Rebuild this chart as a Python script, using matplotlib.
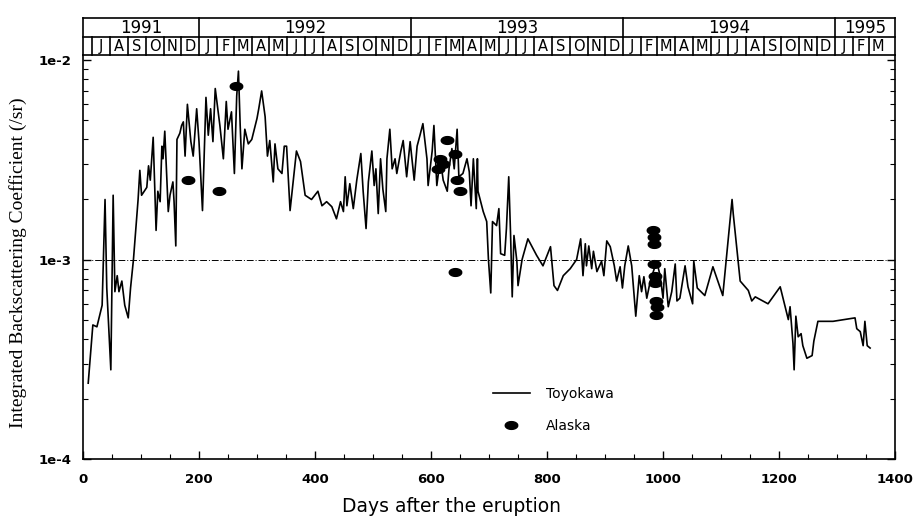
import numpy as np
import matplotlib
matplotlib.use("Agg")
import matplotlib.pyplot as plt
import matplotlib.transforms as mtransforms

# Toyokawa lidar series (days after eruption, /sr)
toyo_days = [9, 17, 24, 33, 38, 41, 48, 52, 55, 59, 62, 67, 72, 78, 82, 87, 95, 98, 101,
             110, 113, 116, 121, 126, 129, 133, 136, 138, 141, 147, 150, 155, 157, 160,
             162, 167, 170, 173, 176, 180, 186, 190, 196, 200, 206, 212, 216, 220, 224,
             228, 236, 242, 247, 250, 256, 261, 265, 268, 271, 274, 279, 285, 291, 300,
             303, 308, 314, 318, 322, 328, 331, 336, 343, 347, 351, 357, 368, 375, 383,
             394, 405, 412, 420, 429, 437, 444, 449, 452, 455, 460, 466, 472, 479, 483,
             488, 492, 498, 502, 505, 509, 513, 517, 522, 524, 529, 533, 538, 541, 548,
             552, 558, 564, 571, 576, 581, 586, 593, 595, 602, 605, 610, 616, 621, 628,
             631, 636, 640, 645, 648, 655, 662, 666, 669, 673, 678, 680, 681, 690, 696,
             699, 703, 706, 713, 717, 720, 727, 730, 734, 737, 740, 743, 748, 750, 757,
             767, 782, 793, 806, 812, 818, 828, 840, 851, 858, 862, 866, 868, 872, 877,
             880, 886, 894, 898, 903, 909, 916, 920, 926, 930, 934, 940, 946, 953, 959,
             963, 967, 972, 978, 989, 995, 1000, 1003, 1009, 1015, 1021, 1024, 1029,
             1038, 1043, 1051, 1053, 1059, 1072, 1086, 1103, 1119, 1121, 1133, 1147,
             1153, 1159, 1181, 1202, 1216, 1219, 1224, 1226, 1229, 1233, 1238, 1241,
             1248, 1257, 1260, 1267, 1293, 1331, 1334, 1340, 1345, 1348, 1352, 1357]
toyo_vals = [2.4e-4, 4.7e-4, 4.6e-4, 5.9e-4, 2.0e-3, 7.2e-4, 2.8e-4, 2.1e-3, 6.9e-4, 8.3e-4,
             6.9e-4, 7.8e-4, 5.9e-4, 5.1e-4, 7.2e-4, 1.0e-3, 2.0e-3, 2.8e-3, 2.1e-3,
             2.3e-3, 2.95e-3, 2.5e-3, 4.1e-3, 1.4e-3, 2.2e-3, 1.95e-3, 3.7e-3, 3.2e-3,
             4.4e-3, 1.74e-3, 2.1e-3, 2.45e-3, 1.95e-3, 1.17e-3, 4.0e-3, 4.3e-3, 4.7e-3,
             4.9e-3, 3.3e-3, 6.0e-3, 3.9e-3, 3.3e-3, 5.7e-3, 3.9e-3, 1.76e-3, 6.5e-3,
             4.2e-3, 5.7e-3, 3.9e-3, 7.2e-3, 4.7e-3, 3.2e-3, 6.2e-3, 4.5e-3, 5.5e-3,
             2.7e-3, 6.6e-3, 8.8e-3, 4.7e-3, 2.85e-3, 4.5e-3, 3.8e-3, 4.0e-3, 5.1e-3,
             5.7e-3, 7.0e-3, 5.2e-3, 3.3e-3, 3.95e-3, 2.45e-3, 3.8e-3, 2.85e-3, 2.7e-3,
             3.7e-3, 3.7e-3, 1.76e-3, 3.5e-3, 3.1e-3, 2.1e-3, 2.0e-3, 2.2e-3, 1.86e-3,
             1.95e-3, 1.84e-3, 1.6e-3, 1.95e-3, 1.74e-3, 2.6e-3, 1.86e-3, 2.4e-3, 1.8e-3,
             2.5e-3, 3.4e-3, 2.2e-3, 1.43e-3, 2.45e-3, 3.5e-3, 2.35e-3, 2.85e-3, 1.7e-3,
             3.2e-3, 2.25e-3, 1.74e-3, 3.2e-3, 4.5e-3, 2.85e-3, 3.2e-3, 2.7e-3, 3.5e-3,
             3.95e-3, 2.6e-3, 3.9e-3, 2.5e-3, 3.7e-3, 4.2e-3, 4.8e-3, 3.2e-3, 2.35e-3,
             3.5e-3, 4.7e-3, 2.35e-3, 3.2e-3, 2.5e-3, 2.2e-3, 2.85e-3, 3.6e-3, 2.85e-3,
             4.5e-3, 2.6e-3, 2.7e-3, 3.2e-3, 2.75e-3, 1.86e-3, 3.2e-3, 1.8e-3, 3.2e-3,
             2.2e-3, 1.74e-3, 1.55e-3, 1.0e-3, 6.8e-4, 1.55e-3, 1.48e-3, 1.8e-3, 1.07e-3,
             1.05e-3, 1.43e-3, 2.6e-3, 1.38e-3, 6.5e-4, 1.32e-3, 9.8e-4, 7.4e-4, 1.0e-3,
             1.27e-3, 1.05e-3, 9.3e-4, 1.16e-3, 7.4e-4, 7.0e-4, 8.3e-4, 9.0e-4, 1.0e-3,
             1.27e-3, 8.3e-4, 1.2e-3, 9.3e-4, 1.17e-3, 9.0e-4, 1.1e-3, 8.7e-4, 9.8e-4,
             8.3e-4, 1.24e-3, 1.16e-3, 9.3e-4, 7.8e-4, 9.2e-4, 7.2e-4, 9.3e-4, 1.17e-3,
             9.3e-4, 5.2e-4, 8.3e-4, 6.9e-4, 8.2e-4, 6.4e-4, 7.8e-4, 9.8e-4, 8.3e-4,
             6.4e-4, 9.0e-4, 5.8e-4, 6.9e-4, 9.5e-4, 6.2e-4, 6.4e-4, 9.3e-4, 7.3e-4,
             6.0e-4, 9.8e-4, 7.2e-4, 6.6e-4, 9.2e-4, 6.6e-4, 2.0e-3, 1.7e-3, 7.8e-4,
             7.0e-4, 6.2e-4, 6.5e-4, 6.0e-4, 7.3e-4, 5.0e-4, 5.8e-4, 3.8e-4, 2.8e-4,
             5.2e-4, 4.1e-4, 4.25e-4, 3.7e-4, 3.2e-4, 3.3e-4, 3.9e-4, 4.9e-4, 4.9e-4,
             5.1e-4, 4.5e-4, 4.35e-4, 3.7e-4, 4.9e-4, 3.7e-4, 3.6e-4]

# Alaska measurements
alaska_days = [181, 235, 264, 612, 616, 621, 627, 641, 645, 650, 641,
               983, 984, 985, 984, 986, 987, 988, 989, 988]
alaska_vals = [2.5e-3, 2.2e-3, 7.4e-3, 2.85e-3, 3.2e-3, 3.0e-3, 3.98e-3, 3.4e-3, 2.5e-3,
               2.2e-3, 8.7e-4, 1.40e-3, 1.30e-3, 1.20e-3, 9.5e-4, 8.3e-4, 7.6e-4,
               6.2e-4, 5.8e-4, 5.25e-4]

eruption = np.datetime64("1991-06-15")
month_letters = "JFMAMJJASOND"
years = [1991, 1992, 1993, 1994, 1995]
x_max = 1400

fig = plt.figure(figsize=(9.15, 5.25), dpi=100)
ax = fig.add_axes([0.0907, 0.1257, 0.8875, 0.7695])

ax.plot(toyo_days, toyo_vals, color="black", lw=1.2, label="Toyokawa")

t = np.linspace(0, 2 * np.pi, 41)
ellipse = np.column_stack([np.cos(t), 0.62 * np.sin(t)])
ax.plot(alaska_days, alaska_vals, ls="none", marker=ellipse, ms=9, color="black",
        label="Alaska")

ax.axhline(1e-3, color="black", lw=0.7, ls=(0, (7, 2, 1, 2)))

ax.set_yscale("log")
ax.set_xlim(0, x_max)
ax.set_ylim(1e-4, 1.06e-2)
ax.set_xticks(np.arange(0, 1401, 200))
ax.set_xticks(np.arange(0, 1401, 50), minor=True)
ax.set_yticks([1e-4, 1e-3, 1e-2])
ax.set_yticklabels(["1e-4", "1e-3", "1e-2"])
ax.tick_params(which="both", direction="in", right=True, top=False)
ax.tick_params(which="major", length=6, width=1)
ax.tick_params(which="minor", length=3.5, width=0.8)
ax.tick_params(axis="x", pad=10)
ax.tick_params(axis="y", pad=8)
for lab in ax.get_xticklabels() + ax.get_yticklabels():
    lab.set_fontfamily("DejaVu Sans")
    lab.set_fontweight("bold")
    lab.set_fontsize(9.5)
for sp in ax.spines.values():
    sp.set_linewidth(1.2)

ax.set_xlabel("Days after the eruption", fontfamily="DejaVu Sans", fontsize=13.5)
ax.xaxis.set_label_coords(0.454, -0.095)
ax.set_ylabel("Integrated Backscattering Coefficient (/sr)", fontfamily="Liberation Serif",
              fontsize=14)
ax.yaxis.set_label_coords(-0.069, 0.485)

# month / year header above the plot
trans = mtransforms.blended_transform_factory(ax.transData, ax.transAxes)
y0, y1, y2 = 1.0, 1.0446, 1.0916
hdr = dict(color="black", lw=1.2, transform=trans, clip_on=False)
ax.plot([0, x_max], [y1, y1], **hdr)
ax.plot([0, x_max], [y2, y2], **hdr)
ax.plot([0, 0], [y0, y2], **hdr)
ax.plot([x_max, x_max], [y0, y2], **hdr)

months = np.arange(np.datetime64("1991-07"), np.datetime64("1995-04"), np.timedelta64(1, "M"))
for m in months:
    start = (m.astype("datetime64[D]") - eruption).astype(int)
    end = min(((m + 1).astype("datetime64[D]") - eruption).astype(int), x_max)
    ax.plot([start, start], [y0, y1], **hdr)
    letter = month_letters[int(str(m)[5:7]) - 1]
    ax.text((start + end) / 2, (y0 + y1) / 2, letter, transform=trans, ha="center",
            va="center", fontsize=10.5, fontfamily="DejaVu Sans")

for yr in years:
    start = max((np.datetime64(f"{yr}-01-01") - eruption).astype(int), 0)
    end = min((np.datetime64(f"{yr + 1}-01-01") - eruption).astype(int), x_max)
    if start > 0:
        ax.plot([start, start], [y1, y2], **hdr)
    ax.text((start + end) / 2, (y1 + y2) / 2, str(yr), transform=trans, ha="center",
            va="center", fontsize=12, fontfamily="DejaVu Sans")

ax.legend(loc="upper left", bbox_to_anchor=(0.49, 0.21), frameon=False,
          prop={"family": "DejaVu Sans", "size": 10}, handlelength=2.6,
          labelspacing=1.3, handletextpad=1.2)

fig.savefig("out.png", dpi=100)
